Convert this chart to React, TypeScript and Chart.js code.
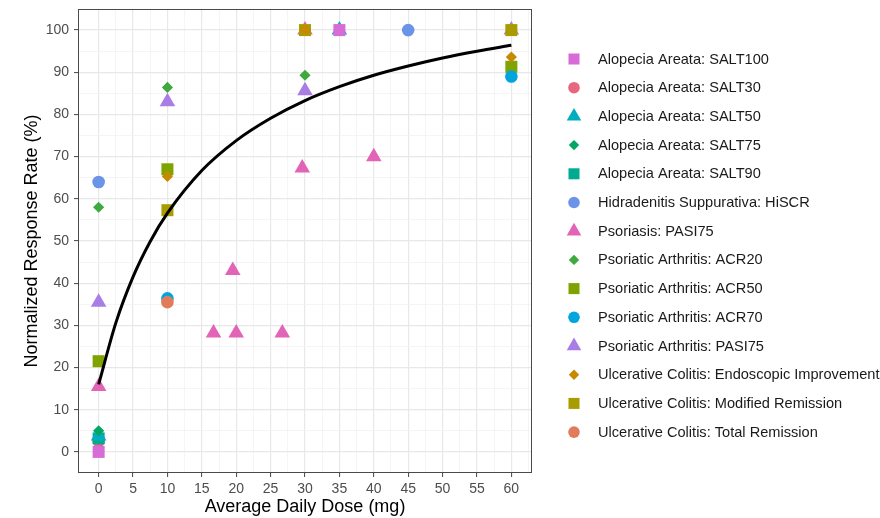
import React, { useEffect, useRef } from 'react';
import { Chart, registerables } from 'chart.js';
import { drawPoint } from 'chart.js/helpers';

Chart.register(...registerables);

// ---- Data ----
const salt100X = [0, 35];
const salt100Y = [0, 100];
const salt30X = [0];
const salt30Y = [2.6];
const salt50X = [0, 35];
const salt50Y = [3.8, 100];
const salt75X = [0];
const salt75Y = [5];
const salt90X = [0];
const salt90Y = [3.2];
const hiscrX = [0, 45];
const hiscrY = [64, 100];
const psoX = [0, 16.7, 19.5, 20, 26.7, 29.6, 30, 40];
const psoY = [15.5, 28.2, 43, 28.2, 28.2, 67.3, 100, 70];
const acr20X = [0, 10, 30];
const acr20Y = [58, 86.4, 89.3];
const acr50X = [0, 10, 60];
const acr50Y = [21.5, 67, 91.3];
const acr70X = [10, 60];
const acr70Y = [36.4, 89];
const psaPasiX = [0, 10, 30, 60];
const psaPasiY = [35.5, 83, 85.6, 100];
const ucEndoX = [10, 30, 60];
const ucEndoY = [65.3, 100, 93.6];
const ucModX = [10, 30, 60];
const ucModY = [57.3, 100, 100];
const ucTotalX = [10];
const ucTotalY = [35.5];

// model curve
const curveX = [0, 2.5, 5, 7.5, 10, 15, 20, 25, 30, 35, 40, 45, 50, 55, 60];
const curveY = [16, 30.6, 41.5, 49.9, 56.6, 66.7, 73.8, 79.1, 83.3, 86.6, 89.3, 91.5, 93.4, 95, 96.4];

const xGridValues = [0, 2.5, 5, 7.5, 10, 12.5, 15, 17.5, 20, 22.5, 25, 27.5, 30, 32.5, 35, 37.5, 40, 42.5, 45, 47.5, 50, 52.5, 55, 57.5, 60, 62.5];
const yGridValues = [0, 5, 10, 15, 20, 25, 30, 35, 40, 45, 50, 55, 60, 65, 70, 75, 80, 85, 90, 95, 100];

type S = { label: string; xs: number[]; ys: number[]; color: string; style: string; order: number };

const series: S[] = [
  { label: 'Alopecia Areata: SALT100', xs: salt100X, ys: salt100Y, color: '#D86CD6', style: 'rect', order: 5 },
  { label: 'Alopecia Areata: SALT30', xs: salt30X, ys: salt30Y, color: '#E8677F', style: 'circle', order: 12 },
  { label: 'Alopecia Areata: SALT50', xs: salt50X, ys: salt50Y, color: '#00AEC0', style: 'triangle', order: 10 },
  { label: 'Alopecia Areata: SALT75', xs: salt75X, ys: salt75Y, color: '#00A864', style: 'rectRot', order: 6 },
  { label: 'Alopecia Areata: SALT90', xs: salt90X, ys: salt90Y, color: '#00AB92', style: 'rect', order: 11 },
  { label: 'Hidradenitis Suppurativa: HiSCR', xs: hiscrX, ys: hiscrY, color: '#6B93E8', style: 'circle', order: 9 },
  { label: 'Psoriasis: PASI75', xs: psoX, ys: psoY, color: '#E264B6', style: 'triangle', order: 14 },
  { label: 'Psoriatic Arthritis: ACR20', xs: acr20X, ys: acr20Y, color: '#3EAA3E', style: 'rectRot', order: 7 },
  { label: 'Psoriatic Arthritis: ACR50', xs: acr50X, ys: acr50Y, color: '#7FA300', style: 'rect', order: 8 },
  { label: 'Psoriatic Arthritis: ACR70', xs: acr70X, ys: acr70Y, color: '#00A5DE', style: 'circle', order: 3 },
  { label: 'Psoriatic Arthritis: PASI75', xs: psaPasiX, ys: psaPasiY, color: '#A97DE6', style: 'triangle', order: 13 },
  { label: 'Ulcerative Colitis: Endoscopic Improvement', xs: ucEndoX, ys: ucEndoY, color: '#C68A00', style: 'rectRot', order: 2 },
  { label: 'Ulcerative Colitis: Modified Remission', xs: ucModX, ys: ucModY, color: '#A89C00', style: 'rect', order: 4 },
  { label: 'Ulcerative Colitis: Total Remission', xs: ucTotalX, ys: ucTotalY, color: '#E07C5C', style: 'circle', order: 1 },
];

const radiusFor: Record<string, number> = { rect: 8.5, circle: 6.3, triangle: 9, rectRot: 5.6 };
const legendRadiusFor: Record<string, number> = { rect: 7.8, circle: 5.8, triangle: 8.4, rectRot: 5.2 };

const FONT = '"Liberation Sans", Arial, Helvetica, sans-serif';

export default function App() {
  const ref = useRef<HTMLCanvasElement | null>(null);

  useEffect(() => {
    document.body.style.margin = '0';
    const canvas = ref.current;
    if (!canvas) return;

    const datasets: any[] = [
      {
        type: 'line',
        label: 'fit',
        data: curveX.map((x, i) => ({ x, y: curveY[i] })),
        borderColor: '#000000',
        borderWidth: 3,
        pointRadius: 0,
        fill: false,
        cubicInterpolationMode: 'monotone',
        order: 0,
      },
      ...series.map((s) => ({
        type: 'scatter',
        label: s.label,
        data: s.xs.map((x, i) => ({ x, y: s.ys[i] })),
        backgroundColor: s.color,
        borderColor: s.color,
        pointStyle: s.style,
        pointRadius: radiusFor[s.style],
        pointBorderWidth: 0,
        order: s.order,
      })),
    ];

    const framePlugin = {
      id: 'frameAndLegend',
      afterDraw(chart: any) {
        const { ctx, chartArea } = chart;
        ctx.save();
        ctx.strokeStyle = '#4A4A4A';
        ctx.lineWidth = 1;
        ctx.strokeRect(
          Math.round(chartArea.left) + 0.5,
          Math.round(chartArea.top) + 0.5,
          Math.round(chartArea.right - chartArea.left) - 1,
          Math.round(chartArea.bottom - chartArea.top) - 1
        );
        // legend
        const startY = 59;
        const step = 28.7;
        series.forEach((s, i) => {
          const y = startY + i * step;
          ctx.fillStyle = s.color;
          drawPoint(ctx, { pointStyle: s.style, radius: legendRadiusFor[s.style], rotation: 0, borderWidth: 0 } as any, 574, y);
          ctx.fillStyle = '#1A1A1A';
          ctx.font = `14.6px ${FONT}`;
          ctx.textBaseline = 'middle';
          ctx.textAlign = 'left';
          ctx.fillText(s.label, 598, y + 0.5);
        });
        ctx.restore();
      },
    };

    const chart = new Chart(canvas, {
      type: 'scatter',
      data: { datasets },
      options: {
        animation: false,
        responsive: false,
        devicePixelRatio: 1,
        events: [],
        layout: { padding: { top: 9, right: 348, left: 0, bottom: 0 } },
        plugins: { legend: { display: false }, tooltip: { enabled: false } },
        scales: {
          x: {
            type: 'linear',
            min: -3,
            max: 63,
            afterBuildTicks: (scale: any) => {
              scale.ticks = xGridValues.map((v) => ({ value: v }));
            },
            afterFit: (scale: any) => {
              scale.height = 45;
              scale.paddingLeft = 0;
              scale.paddingRight = 0;
            },
            border: { display: false },
            grid: {
              color: (c: any) => (c.tick && c.tick.value % 5 === 0 ? '#E8E8E8' : '#F3F3F3'),
              lineWidth: (c: any) => (c.tick && c.tick.value % 5 === 0 ? 1.2 : 0.8),
              tickColor: (c: any) => (c.tick && c.tick.value % 5 === 0 ? '#444444' : 'rgba(0,0,0,0)'),
              tickLength: 4,
              tickWidth: 1,
            },
            ticks: {
              autoSkip: false,
              maxRotation: 0,
              padding: 4,
              color: '#4D4D4D',
              font: { size: 14, family: FONT },
              callback: (v: any) => (Number(v) % 5 === 0 ? String(v) : ''),
            },
            title: {
              display: true,
              text: 'Average Daily Dose (mg)',
              color: '#000000',
              font: { size: 18, family: FONT },
              padding: { top: 0, bottom: 0 },
            },
          },
          y: {
            type: 'linear',
            min: -5,
            max: 105,
            afterBuildTicks: (scale: any) => {
              scale.ticks = yGridValues.map((v) => ({ value: v }));
            },
            afterFit: (scale: any) => {
              scale.width = 78;
              scale.paddingTop = 0;
              scale.paddingBottom = 0;
            },
            border: { display: false },
            grid: {
              color: (c: any) => (c.tick && c.tick.value % 10 === 0 ? '#E8E8E8' : '#F3F3F3'),
              lineWidth: (c: any) => (c.tick && c.tick.value % 10 === 0 ? 1.2 : 0.8),
              tickColor: (c: any) => (c.tick && c.tick.value % 10 === 0 ? '#444444' : 'rgba(0,0,0,0)'),
              tickLength: 4,
              tickWidth: 1,
            },
            ticks: {
              autoSkip: false,
              padding: 5,
              color: '#4D4D4D',
              font: { size: 14, family: FONT },
              callback: (v: any) => (Number(v) % 10 === 0 ? String(v) : ''),
            },
            title: {
              display: true,
              text: 'Normalized Response Rate (%)',
              color: '#000000',
              font: { size: 18, family: FONT },
              padding: { top: 21, bottom: 0 },
            },
          },
        },
      },
      plugins: [framePlugin],
    } as any);

    return () => chart.destroy();
  }, []);

  return (
    <div style={{ width: 880, height: 518, position: 'relative', background: '#fff' }}>
      <canvas ref={ref} width={880} height={518} style={{ display: 'block', width: 880, height: 518 }} />
    </div>
  );
}
